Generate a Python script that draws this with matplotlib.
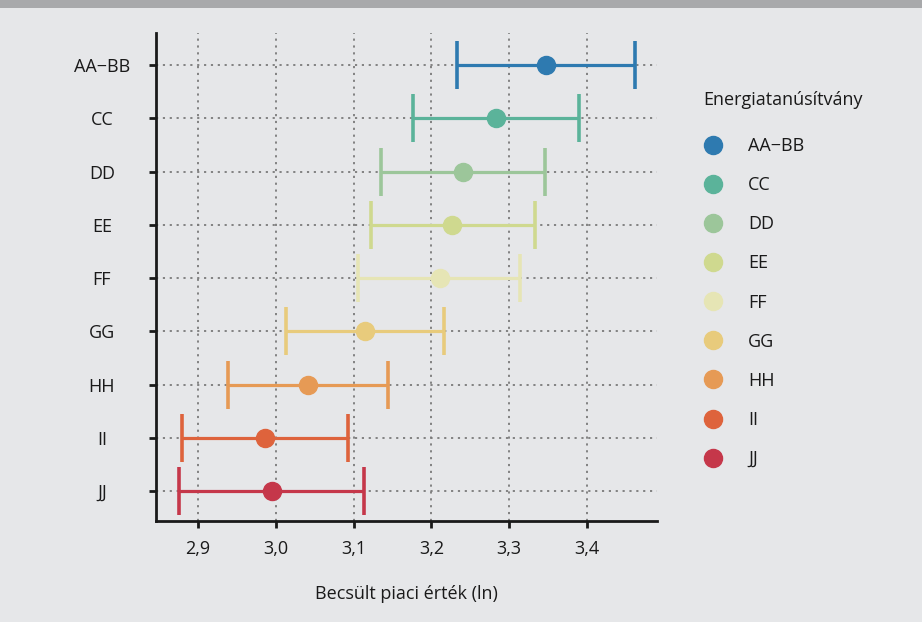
import matplotlib
matplotlib.use('Agg')
import matplotlib.pyplot as plt
from matplotlib.lines import Line2D
from matplotlib.ticker import FuncFormatter

# ── adatok ────────────────────────────────────────────────────────────────────
categories = ["AA\u2212BB", "CC", "DD", "EE", "FF", "GG", "HH", "II", "JJ"]
estimate = [3.347, 3.283, 3.241, 3.226, 3.211, 3.115, 3.041, 2.986, 2.995]
ci_low   = [3.233, 3.176, 3.135, 3.122, 3.106, 3.013, 2.939, 2.880, 2.876]
ci_high  = [3.462, 3.390, 3.346, 3.333, 3.314, 3.216, 3.144, 3.093, 3.113]
colors = ["#2e7ab0", "#5bb39a", "#9cc69a", "#cfd98f", "#e6e5b5",
          "#e8cb7c", "#e69a55", "#de633c", "#c5374a"]
x_ticks = [2.9, 3.0, 3.1, 3.2, 3.3, 3.4]

BG = "#e6e7e9"
FS = 13
plt.rcParams['font.family'] = ['Open Sans', 'DejaVu Sans']
plt.rcParams['font.size'] = FS

fig = plt.figure(figsize=(9.22, 6.22), dpi=100, facecolor=BG)
# felső sáv
fig.patches.append(plt.Rectangle((0, 1 - 8 / 622), 1, 8 / 622, transform=fig.transFigure,
                                 facecolor="#a8a9ab", edgecolor="none"))

ax = fig.add_axes([156 / 922, 101 / 622, 501 / 922, 488 / 622])
ax.set_facecolor(BG)

ypos = list(range(len(categories)))
for i, (est, lo, hi, c) in enumerate(zip(estimate, ci_low, ci_high, colors)):
    ax.errorbar(est, i, xerr=[[est - lo], [hi - est]], fmt='o', color=c,
                markersize=13, elinewidth=2.3, capsize=17, capthick=2.6, zorder=3)

ax.set_yticks(ypos)
ax.set_yticklabels(categories, ha='center')
ax.set_ylim(8.56, -0.6)
ax.set_xticks(x_ticks)
ax.set_xlim(2.846, 3.49)
ax.xaxis.set_major_formatter(FuncFormatter(lambda v, p: f"{v:.1f}".replace(".", ",")))

ax.grid(True, linestyle=(0, (1.2, 2.6)), color="#7a7a7a", linewidth=1.3, zorder=0)
ax.set_axisbelow(True)
for s in ["top", "right"]:
    ax.spines[s].set_visible(False)
for s in ["left", "bottom"]:
    ax.spines[s].set_linewidth(2)
    ax.spines[s].set_color("#1a1a1a")
ax.tick_params(axis='both', length=5, width=2, color="#1a1a1a", labelcolor="#1a1a1a")
ax.tick_params(axis='y', pad=34)
ax.tick_params(axis='x', pad=9)
ax.set_xlabel("Becsült piaci érték (ln)", labelpad=19, color="#1a1a1a")

# jelmagyarázat
fig.text(703 / 922, 1 - 100 / 622, "Energiatanúsítvány", ha='left', va='center',
         color="#1a1a1a")
handles = [Line2D([], [], marker='o', linestyle='none', color=c, markersize=13) for c in colors]
fig.legend(handles, categories, loc='upper left',
           bbox_to_anchor=(704 / 922, 1 - 137 / 622), frameon=False,
           borderpad=0, borderaxespad=0, handlelength=1.0,
           labelspacing=1.17, handletextpad=1.45, labelcolor="#1a1a1a")

fig.savefig("out.png", dpi=100, facecolor=BG)
